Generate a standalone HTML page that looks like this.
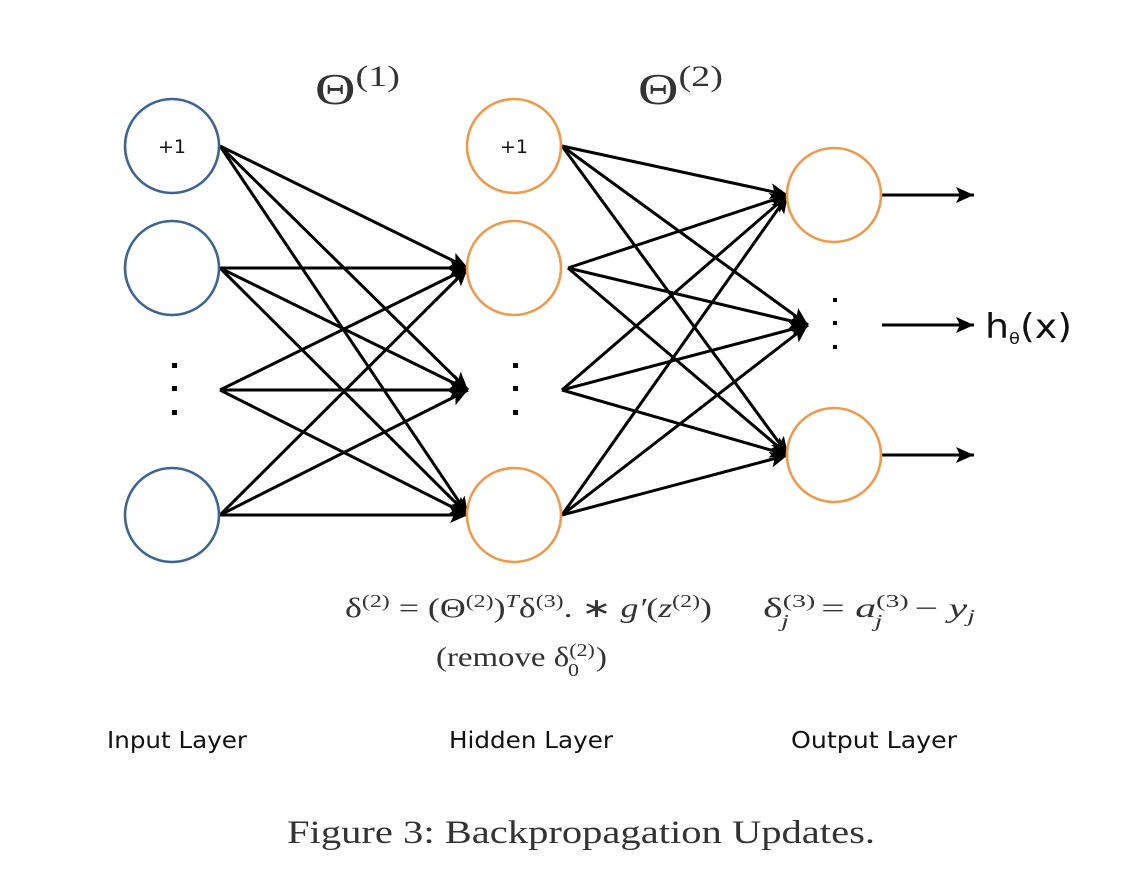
<!DOCTYPE html>
<html><head><meta charset="utf-8"><style>
html,body{margin:0;padding:0;background:#fff;}
svg{display:block}
.tex{font-family:"Liberation Serif",serif;fill:#333}
.sans{font-family:"DejaVu Sans","Liberation Sans",sans-serif;fill:#111}
</style></head><body>
<svg width="1142" height="874" viewBox="0 0 1142 874" xmlns="http://www.w3.org/2000/svg">
<defs>
<marker id="b" markerWidth="22" markerHeight="20" refX="18" refY="8" orient="auto" markerUnits="userSpaceOnUse">
<path d="M0,0 L18,8 L0,16 L4,8 z" fill="#000"/>
</marker>
</defs>
<g stroke="#000" stroke-width="3" marker-end="url(#b)">
<line x1="220" y1="146" x2="468" y2="268"/>
<line x1="220" y1="146" x2="468" y2="390"/>
<line x1="220" y1="146" x2="468" y2="515"/>
<line x1="220" y1="268" x2="468" y2="268"/>
<line x1="220" y1="268" x2="468" y2="390"/>
<line x1="220" y1="268" x2="468" y2="515"/>
<line x1="220" y1="390" x2="468" y2="268"/>
<line x1="220" y1="390" x2="468" y2="390"/>
<line x1="220" y1="390" x2="468" y2="515"/>
<line x1="220" y1="515" x2="468" y2="268"/>
<line x1="220" y1="515" x2="468" y2="390"/>
<line x1="220" y1="515" x2="468" y2="515"/>
<line x1="562" y1="146" x2="788" y2="195"/>
<line x1="562" y1="146" x2="808" y2="325"/>
<line x1="562" y1="146" x2="788" y2="455"/>
<line x1="568" y1="268" x2="788" y2="195"/>
<line x1="568" y1="268" x2="808" y2="325"/>
<line x1="568" y1="268" x2="788" y2="455"/>
<line x1="562" y1="390" x2="788" y2="195"/>
<line x1="562" y1="390" x2="808" y2="325"/>
<line x1="562" y1="390" x2="788" y2="455"/>
<line x1="562" y1="515" x2="788" y2="195"/>
<line x1="562" y1="515" x2="808" y2="325"/>
<line x1="562" y1="515" x2="788" y2="455"/>
<line x1="882" y1="195" x2="974" y2="195"/>
<line x1="882" y1="325" x2="974" y2="325"/>
<line x1="882" y1="455" x2="974" y2="455"/>
</g>
<g fill="#fff" stroke-width="2.6">
<circle cx="172" cy="146" r="47" stroke="#3d6496"/>
<circle cx="172" cy="268" r="47" stroke="#3d6496"/>
<circle cx="172" cy="515" r="47" stroke="#3d6496"/>
<circle cx="514" cy="146" r="47" stroke="#ee9a4d"/>
<circle cx="514" cy="268" r="47" stroke="#ee9a4d"/>
<circle cx="514" cy="515" r="47" stroke="#ee9a4d"/>
<circle cx="834" cy="195" r="47" stroke="#ee9a4d"/>
<circle cx="834" cy="455" r="47" stroke="#ee9a4d"/>
</g>
<g fill="#000">
<rect x="172" y="363" width="5" height="5"/><rect x="172" y="386" width="5" height="5"/><rect x="172" y="410" width="5" height="5"/>
<rect x="513" y="363" width="5" height="5"/><rect x="513" y="386" width="5" height="5"/><rect x="513" y="410" width="5" height="5"/>
<rect x="833" y="298" width="4" height="4"/><rect x="833" y="321" width="4" height="4"/><rect x="833" y="345" width="4" height="4"/>
</g>
<text x="172" y="153" class="sans" font-size="19" text-anchor="middle">+1</text>
<text x="514" y="153" class="sans" font-size="19" text-anchor="middle">+1</text>
<text x="985" y="338" class="sans" font-size="34" textLength="87" lengthAdjust="spacingAndGlyphs">h<tspan font-size="16" dy="6">θ</tspan><tspan dy="-6">(x)</tspan></text>
<text x="315" y="104" class="tex" font-size="44" textLength="85" lengthAdjust="spacingAndGlyphs">Θ<tspan font-size="30" dy="-18">(1)</tspan></text>
<text x="638" y="104" class="tex" font-size="44" textLength="85" lengthAdjust="spacingAndGlyphs">Θ<tspan font-size="30" dy="-18">(2)</tspan></text>
<text x="345" y="617" class="tex" font-size="27" textLength="367" lengthAdjust="spacingAndGlyphs">δ<tspan font-size="18" dy="-10">(2)</tspan><tspan dy="10"> = (Θ</tspan><tspan font-size="18" dy="-10">(2)</tspan><tspan dy="10">)</tspan><tspan font-size="18" dy="-10" font-style="italic">T</tspan><tspan dy="10">δ</tspan><tspan font-size="18" dy="-10">(3)</tspan><tspan dy="10">. ∗ </tspan><tspan font-style="italic">g′</tspan><tspan>(</tspan><tspan font-style="italic">z</tspan><tspan font-size="18" dy="-10">(2)</tspan><tspan dy="10">)</tspan></text>
<text x="763" y="617" class="tex" font-size="27" textLength="212" lengthAdjust="spacingAndGlyphs">δ<tspan font-size="18" dy="-10">(3)</tspan><tspan font-size="18" dx="-22" dy="20" font-style="italic">j</tspan><tspan dx="14" dy="-10"> = </tspan><tspan font-style="italic">a</tspan><tspan font-size="18" dy="-10">(3)</tspan><tspan font-size="18" dx="-22" dy="20" font-style="italic">j</tspan><tspan dx="14" dy="-10"> − </tspan><tspan font-style="italic">y</tspan><tspan font-size="18" dy="5" font-style="italic">j</tspan></text>
<text x="436" y="666" class="tex" font-size="27" textLength="171" lengthAdjust="spacingAndGlyphs">(remove δ<tspan font-size="18" dy="-10">(2)</tspan><tspan font-size="18" dx="-22" dy="20">0</tspan><tspan dx="14" dy="-10">)</tspan></text>
<text x="107" y="748" class="sans" font-size="23" textLength="140" lengthAdjust="spacingAndGlyphs">Input Layer</text>
<text x="449" y="748" class="sans" font-size="23" textLength="164" lengthAdjust="spacingAndGlyphs">Hidden Layer</text>
<text x="791" y="748" class="sans" font-size="23" textLength="166" lengthAdjust="spacingAndGlyphs">Output Layer</text>
<text x="287" y="843" class="tex" font-size="33" textLength="588" lengthAdjust="spacingAndGlyphs">Figure 3: Backpropagation Updates.</text>
</svg>
</body></html>
